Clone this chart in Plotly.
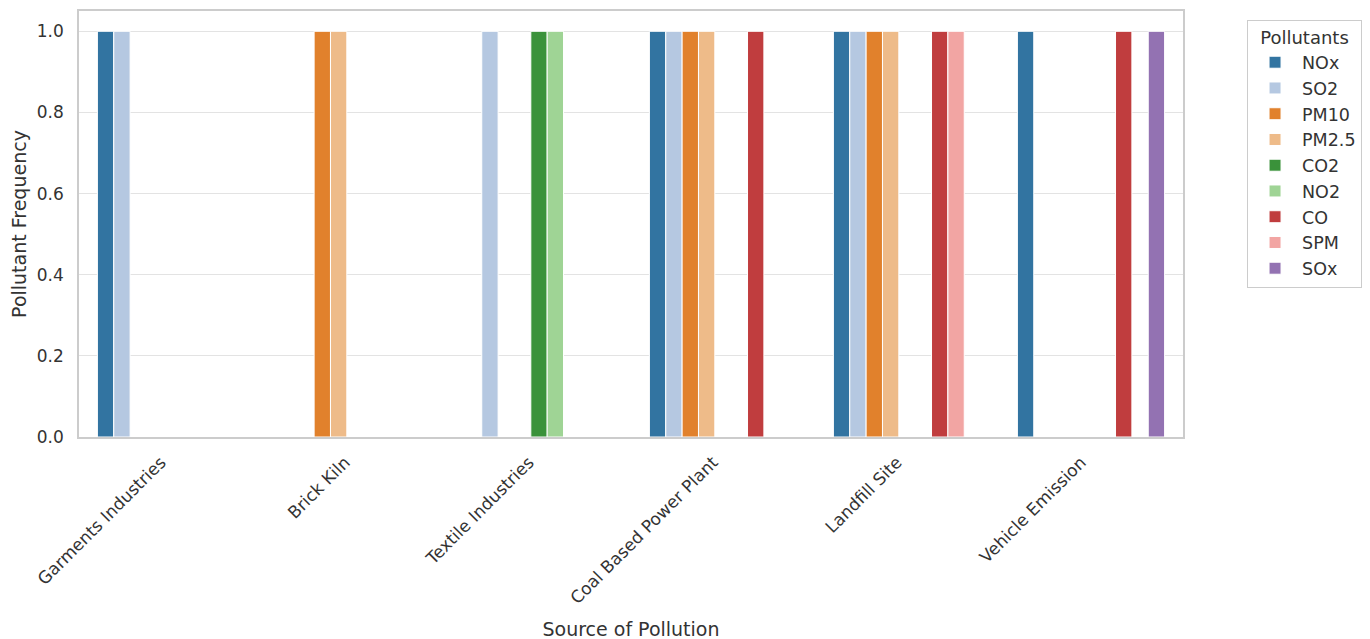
import colorsys
import plotly.graph_objects as go

sources = ["Garments Industries", "Brick Kiln", "Textile Industries",
           "Coal Based Power Plant", "Landfill Site", "Vehicle Emission"]
pollutants = ["NOx", "SO2", "PM10", "PM2.5", "CO2", "NO2", "CO", "SPM", "SOx"]

# frequency per pollutant across sources (None = not present)
NOx   = [1, None, None, 1, 1, 1]
SO2   = [1, None, 1, 1, 1, None]
PM10  = [None, 1, None, 1, 1, None]
PM25  = [None, 1, None, 1, 1, None]
CO2   = [None, None, 1, None, None, None]
NO2   = [None, None, 1, None, None, None]
CO    = [None, None, None, 1, 1, 1]
SPM   = [None, None, None, None, 1, None]
SOx   = [None, None, None, None, None, 1]
series = [NOx, SO2, PM10, PM25, CO2, NO2, CO, SPM, SOx]

base_colors = ["#1f77b4", "#aec7e8", "#ff7f0e", "#ffbb78", "#2ca02c",
               "#98df8a", "#d62728", "#ff9896", "#9467bd"]


def desat(hexc, prop=0.75):
    r, g, b = (int(hexc[i:i + 2], 16) / 255 for i in (1, 3, 5))
    h, l, s = colorsys.rgb_to_hls(r, g, b)
    r, g, b = colorsys.hls_to_rgb(h, l, s * prop)
    return "#%02x%02x%02x" % (round(r * 255), round(g * 255), round(b * 255))


fig = go.Figure()
for name, vals, col in zip(pollutants, series, base_colors):
    fig.add_trace(go.Bar(
        x=sources, y=vals, name=name,
        marker=dict(color=desat(col), line=dict(color="white", width=1)),
    ))

font = "DejaVu Sans, sans-serif"
txt = "#333333"
fig.update_layout(
    width=1370, height=639,
    barmode="group", bargap=0.2, bargroupgap=0,
    plot_bgcolor="white", paper_bgcolor="white",
    margin=dict(l=71, r=195, t=3, b=210, autoexpand=False),
    font=dict(family=font, size=17, color=txt),
    legend=dict(
        title=dict(text="Pollutants", font=dict(size=18, color=txt), side="top center"),
        x=1.058, y=0.979, xanchor="left", yanchor="top",
        bordercolor="#cccccc", borderwidth=1,
        font=dict(size=17.5, color=txt),
        itemwidth=44, tracegroupgap=0,
    ),
    xaxis=dict(
        title=dict(text="Source of Pollution", font=dict(size=19), standoff=16),
        tickangle=-45, showgrid=False, range=[-0.5, 5.5],
        showline=True, linecolor="#cccccc", linewidth=1.5, mirror=True,
        ticks="", tickfont=dict(size=17, color=txt),
        ticklabelshift=-10, ticklabelstandoff=7,
    ),
    yaxis=dict(
        title=dict(text="Pollutant Frequency", font=dict(size=19), standoff=6),
        range=[0, 1.05], tickvals=[0, 0.2, 0.4, 0.6, 0.8, 1.0],
        ticktext=["0.0", "0.2", "0.4", "0.6", "0.8", "1.0"],
        showgrid=True, gridcolor="#e3e3e3", gridwidth=1.2, zeroline=False,
        showline=True, linecolor="#cccccc", linewidth=1.5, mirror=True,
        ticks="", tickfont=dict(size=17, color=txt),
        ticklabelstandoff=10,
    ),
)

fig.write_html("out.html")
